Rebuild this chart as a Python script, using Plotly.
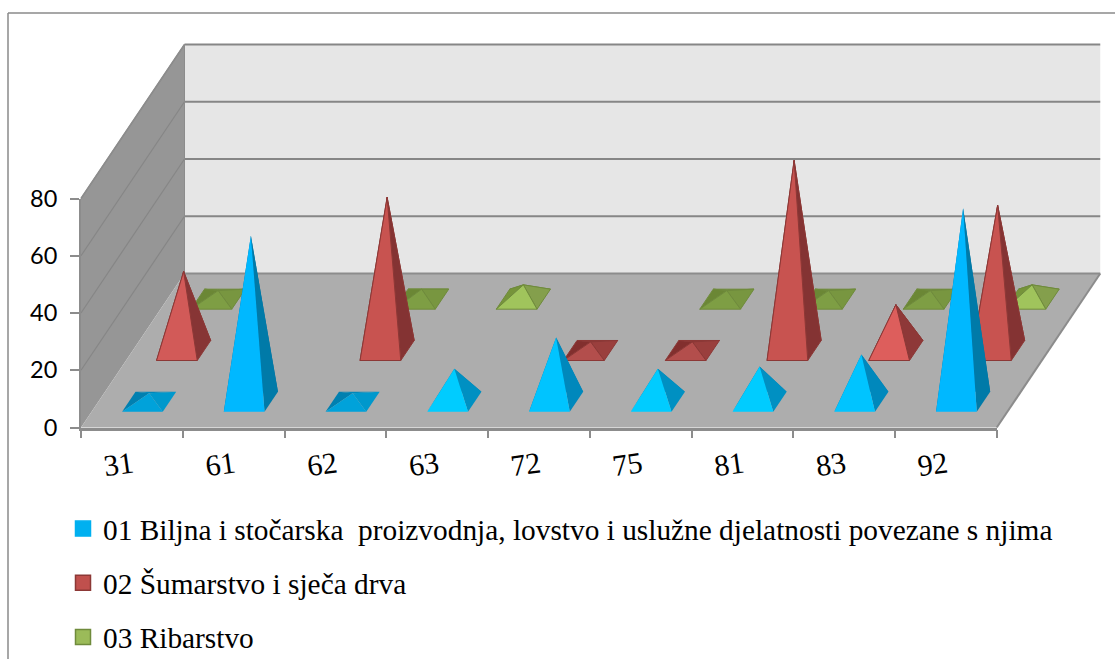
import plotly.graph_objects as go

categories = ["31", "61", "62", "63", "72", "75", "81", "83", "92"]
series_names = [
    "01 Biljna i stočarska\u00a0 proizvodnja, lovstvo i uslužne djelatnosti povezane s njima",
    "02 Šumarstvo i sječa drva",
    "03 Ribarstvo",
]
biljna = [3, 58, 3, 11.6, 22.5, 11.6, 12.3, 16.5, 67.6]
sumarstvo = [27.6, None, 53.5, None, 3, 3, 66.4, 16, 50.7]
ribarstvo = [3, None, 3.5, 5, None, 3, 3, 3, 5]
y_ticks = [0, 20, 40, 60, 80]
grid_values = [0, 20, 40, 60, 80]

W, H = 1115, 659
LEFT, BOTTOM, CAT_PX, VAL_PX = 81.0, 427.5, 101.75, 2.8625
DX = 103.5 / CAT_PX      # depth skew, category units per full depth
DY = 154.0 / VAL_PX      # depth skew, value units per full depth
HALF_W, HALF_D = 0.2, 0.065
N = len(categories)

# palette per series: (value limit, back, left, right, front)
palettes = [
    [(4, "#0088BA", "#0080B0", "#0098CC", "#00A2DA"),
     (15, "#0080B0", "#0078A8", "#0090C2", "#00CCFF"),
     (30, "#0080B0", "#0078A8", "#0088BC", "#00C4FF"),
     (999, "#0070A0", "#0070A0", "#007AA8", "#00B8FF")],
    [(4, "#8B3433", "#822F2E", "#9A3F3D", "#B34E4C"),
     (20, "#8E3838", "#8E3838", "#8E3838", "#DD5E5C"),
     (40, "#873535", "#873535", "#873535", "#D25A58"),
     (999, "#843333", "#843333", "#843333", "#C85350")],
    [(4, "#6E8A38", "#6B8735", "#789640", "#7E9E44"),
     (999, "#7F9A46", "#76943A", "#849F4C", "#A0C45C")],
]
edge_colors = ["rgba(0,0,0,0)", "#8C3836", "#6F8B3C"]
legend_fill = ["#00B0F0", "#C0504D", "#9BBB59"]
legend_line = ["#00B0F0", "#8C3836", "#6F8B3C"]


def project(c, v, d):
    return c + d * DX, v + d * DY


fig = go.Figure()


def poly(points, fill, line_color="rgba(0,0,0,0)", width=0, group=None):
    pts = list(points) + [points[0]]
    fig.add_trace(go.Scatter(
        x=[p[0] for p in pts], y=[p[1] for p in pts], mode="lines", fill="toself",
        fillcolor=fill, line=dict(color=line_color, width=width), hoverinfo="skip",
        showlegend=False, legendgroup=group, xaxis="x", yaxis="y"))


def seg(a, b, color, width):
    fig.add_trace(go.Scatter(
        x=[a[0], b[0]], y=[a[1], b[1]], mode="lines", line=dict(color=color, width=width),
        hoverinfo="skip", showlegend=False, xaxis="x", yaxis="y"))


top = y_ticks[-1]
# walls and floor
poly([project(0, 0, 1), project(N, 0, 1), project(N, top, 1), project(0, top, 1)], "#E6E6E6")
poly([project(0, 0, 0), project(0, 0, 1), project(0, top, 1), project(0, top, 0)], "#969696")
poly([project(0, 0, 0), project(N, 0, 0), project(N, 0, 1), project(0, 0, 1)], "#ADADAD")
for g in grid_values[1:]:
    seg(project(0, g, 1), project(N, g, 1), "#868686", 2)
    seg(project(0, g, 0), project(0, g, 1), "#868686", 1.2)
seg(project(0, 0, 1), project(N, 0, 1), "#8C8C8C", 2)
seg(project(0, top, 0), project(0, top, 1), "#8C8C8C", 1.5)
seg(project(N, 0, 0), project(N, 0, 1), "#8C8C8C", 2)
seg(project(0, 0, 1), project(0, top, 1), "#8C8C8C", 1)

# pyramids, back row first
rows = [biljna, sumarstvo, ribarstvo]
for s in (2, 1, 0):
    d0 = (s + 0.5) / 3
    for i, v in enumerate(rows[s]):
        if v is None:
            continue
        cx = i + 0.5
        fl = project(cx - HALF_W, 0, d0 - HALF_D)
        fr = project(cx + HALF_W, 0, d0 - HALF_D)
        br = project(cx + HALF_W, 0, d0 + HALF_D)
        bl = project(cx - HALF_W, 0, d0 + HALF_D)
        apex = project(cx, v, d0)
        _, back, left, right, front = next(p for p in palettes[s] if v < p[0])
        ec = edge_colors[s]
        lw = 0 if s == 0 else 1
        name = "s%d" % s
        poly([bl, br, apex], back, ec, lw, name)
        poly([fl, bl, apex], left, ec, lw, name)
        poly([fr, br, apex], right, ec, lw, name)
        poly([fl, fr, apex], front, ec, lw, name)

# legend entries and the visible axes
for s, nm in enumerate(series_names):
    fig.add_trace(go.Scatter(
        x=[None], y=[None], mode="markers", name=nm, legendgroup="s%d" % s,
        marker=dict(symbol="square", size=15, color=legend_fill[s],
                    line=dict(color=legend_line[s], width=1.5)),
        xaxis="x2", yaxis="y2"))

fig.update_layout(
    width=W, height=H, margin=dict(l=0, r=0, t=0, b=0, autoexpand=False),
    paper_bgcolor="white", plot_bgcolor="rgba(0,0,0,0)",
    xaxis=dict(visible=False, domain=[0, 1],
               range=[-LEFT / CAT_PX, (W - LEFT) / CAT_PX]),
    yaxis=dict(visible=False, domain=[0, 1],
               range=[(BOTTOM - H) / VAL_PX, BOTTOM / VAL_PX]),
    xaxis2=dict(domain=[LEFT / W, (LEFT + N * CAT_PX) / W], anchor="y2",
                type="category", categoryorder="array", categoryarray=categories,
                tickmode="array", tickvals=categories, ticktext=categories,
                range=[-0.5, N - 0.5], tickson="boundaries",
                ticks="outside", ticklen=8, tickwidth=1.5, tickcolor="#8C8C8C",
                showline=True, linecolor="#8C8C8C", linewidth=2.5, showgrid=False,
                zeroline=False, tickangle=-8, ticklabelstandoff=6, ticklabelshift=1,
                tickfont=dict(family="Liberation Serif", size=30, color="black")),
    yaxis2=dict(domain=[(H - BOTTOM) / H, (H - BOTTOM + top * VAL_PX) / H], anchor="x2",
                range=[0, top], tickmode="array", tickvals=y_ticks,
                ticks="outside", ticklen=9, tickwidth=1.5, tickcolor="#8C8C8C",
                showline=True, linecolor="#8C8C8C", linewidth=2, showgrid=False,
                zeroline=False, ticklabelstandoff=8,
                tickfont=dict(family="Lato", size=23.5, color="black")),
    legend=dict(x=63 / W, xanchor="left", y=1 - 503 / H, yanchor="top",
                bgcolor="rgba(0,0,0,0)", borderwidth=0, tracegroupgap=13,
                itemsizing="trace", itemclick=False, itemdoubleclick=False,
                font=dict(family="Liberation Serif", size=29.35, color="black")),
    showlegend=True,
    shapes=[
        dict(type="line", xref="paper", yref="paper", x0=8 / W, x1=8 / W, y0=0, y1=1 - 13 / H,
             line=dict(color="#8A8A8A", width=1.5)),
        dict(type="line", xref="paper", yref="paper", x0=8 / W, x1=1, y0=1 - 13 / H, y1=1 - 13 / H,
             line=dict(color="#8A8A8A", width=1.5)),
    ],
)

fig.write_html("out.html", config={"displayModeBar": False},
               post_script="document.body.style.margin='0';document.body.style.overflow='hidden';")
